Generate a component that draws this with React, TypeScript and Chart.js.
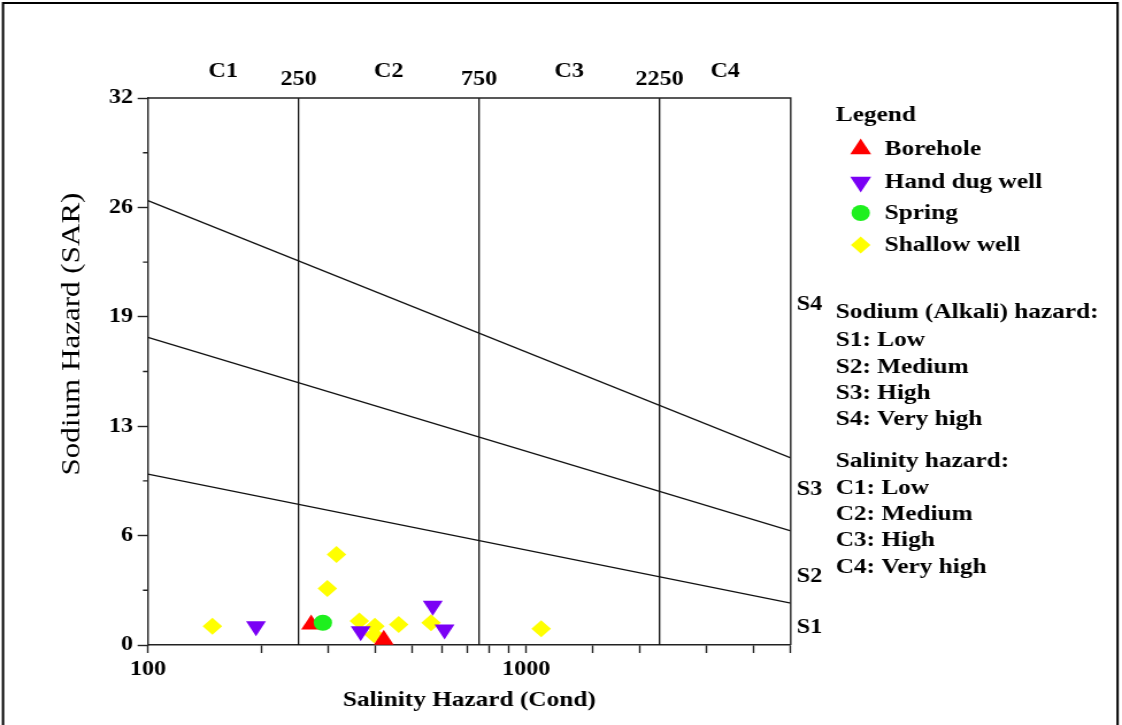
import React, { useEffect, useRef } from 'react';
import { Chart, registerables } from 'chart.js';

Chart.register(...registerables);

// ---------------- data ----------------
const boreholeEC = [270, 420];
const boreholeSAR = [1.2, 0.3];
const handDugEC = [193, 365, 566, 608];
const handDugSAR = [1.1, 0.8, 2.3, 0.9];
const springEC = [290];
const springSAR = [1.3];
const shallowEC = [148, 298, 315, 362, 398, 396, 460, 560, 1095];
const shallowSAR = [1.1, 3.3, 5.3, 1.4, 1.1, 0.6, 1.2, 1.3, 0.95];

const ecMin = 100;
const ecMax = 5000;
const sarMin = 0;
const sarMax = 32;
const salinityBounds = [250, 750, 2250];
const salinityClassLabels = ['C1', 'C2', 'C3', 'C4'];
const sodiumBoundsAtMin = [10, 18, 26];
const sodiumBoundsAtMax = [2.45, 6.67, 10.94];
const sodiumClassLabels = ['S1', 'S2', 'S3', 'S4'];
const sodiumClassLabelSAR = [1.0, 4.0, 9.1, 19.9];
const sarTickValues = [0, 6.4, 12.8, 19.2, 25.6, 32];
const sarMinorTickValues = [3.2, 9.6, 16, 22.4, 28.8];
const ecLabeledTicks = [100, 1000];
const xTitle = 'Salinity Hazard (Cond)';
const yTitle = 'Sodium Hazard (SAR)';
const legendTitle = 'Legend';
const sodiumNoteTitle = 'Sodium (Alkali) hazard:';
const sodiumNotes = ['S1: Low', 'S2: Medium', 'S3: High', 'S4: Very high'];
const salinityNoteTitle = 'Salinity hazard:';
const salinityNotes = ['C1: Low', 'C2: Medium', 'C3: High', 'C4: Very high'];

// ---------------- layout ----------------
const W = 1122;
const H = 725;
const SX = 1.15; // the reference picture is stretched horizontally
const CW = Math.round(W / SX);
const FAMILY = '"Liberation Serif", "Times New Roman", serif';
const PLOT_LEFT = 148;
const PLOT_RIGHT = 791;
const PLOT_TOP = 98;
const PLOT_BOTTOM = 645;

const COLORS = {
  borehole: '#ff0000',
  handDug: '#7a00f5',
  spring: '#1ef01e',
  shallow: '#ffff00',
};

function toPoints(xs: number[], ys: number[]) {
  return xs.map((x, i) => ({ x, y: ys[i] }));
}

function drawMarker(ctx: CanvasRenderingContext2D, style: string, rot: number, x: number, y: number, r: number, color: string) {
  ctx.save();
  ctx.fillStyle = color;
  ctx.beginPath();
  if (style === 'triangle') {
    let a = (rot * Math.PI) / 180;
    for (let k = 0; k < 3; k++) {
      const px = x + Math.sin(a) * r;
      const py = y - Math.cos(a) * r;
      if (k === 0) ctx.moveTo(px, py);
      else ctx.lineTo(px, py);
      a += (2 * Math.PI) / 3;
    }
    ctx.closePath();
  } else if (style === 'rectRot') {
    ctx.moveTo(x - r, y);
    ctx.lineTo(x, y - r);
    ctx.lineTo(x + r, y);
    ctx.lineTo(x, y + r);
    ctx.closePath();
  } else {
    ctx.arc(x, y, r, 0, Math.PI * 2);
  }
  ctx.fill();
  ctx.restore();
}

const decorPlugin = {
  id: 'wilcoxDecor',
  afterDraw(chart: any) {
    const { ctx, chartArea: a, scales } = chart;
    const xs = scales.x;
    const ys = scales.y;
    ctx.save();
    // outer picture frame
    ctx.strokeStyle = '#000';
    ctx.lineWidth = 2;
    ctx.beginPath();
    ctx.moveTo(3 / SX, H + 2);
    ctx.lineTo(3 / SX, 3);
    ctx.lineTo((W - 4) / SX, 3);
    ctx.lineTo((W - 4) / SX, H + 2);
    ctx.stroke();

    // top & right sides of the plot box
    ctx.strokeStyle = '#222';
    ctx.lineWidth = 1.4;
    ctx.beginPath();
    ctx.moveTo(a.left, a.top);
    ctx.lineTo(a.right, a.top);
    ctx.lineTo(a.right, a.bottom);
    ctx.stroke();

    // minor SAR ticks
    ctx.beginPath();
    sarMinorTickValues.forEach((v) => {
      const py = ys.getPixelForValue(v);
      ctx.moveTo(a.left - 5 / SX, py);
      ctx.lineTo(a.left, py);
    });
    ctx.stroke();

    ctx.fillStyle = '#000';
    ctx.textBaseline = 'middle';

    // y axis title (rotated, keeps the reference's wide lettering)
    ctx.save();
    ctx.font = `27px ${FAMILY}`;
    ctx.textAlign = 'center';
    ctx.translate(72 / SX, 334);
    ctx.rotate(-Math.PI / 2);
    ctx.scale(SX, 1 / SX);
    ctx.fillText(yTitle, 0, 0);
    ctx.restore();

    ctx.font = `bold 21px ${FAMILY}`;
    // salinity classes on top
    ctx.textAlign = 'center';
    const edges = [ecMin, ...salinityBounds, ecMax];
    salinityClassLabels.forEach((lab, i) => {
      const mid = Math.sqrt(edges[i] * edges[i + 1]);
      ctx.fillText(lab, xs.getPixelForValue(mid), 72);
    });
    salinityBounds.forEach((b) => ctx.fillText(String(b), xs.getPixelForValue(b), 80));

    // sodium classes on the right
    ctx.textAlign = 'left';
    sodiumClassLabels.forEach((lab, i) => {
      ctx.fillText(lab, a.right + 6 / SX, ys.getPixelForValue(sodiumClassLabelSAR[i]));
    });

    // legend
    ctx.font = `bold 22px ${FAMILY}`;
    const lx = 836 / SX;
    ctx.fillText(legendTitle, lx, 115);
    const markerDs = chart.data.datasets.filter((d: any) => d.isSample);
    const rows = [149, 182, 213, 245];
    markerDs.forEach((d: any, i: number) => {
      const r = d.pointStyle === 'circle' ? 8 : d.pointStyle === 'rectRot' ? 8.5 : 10.5;
      drawMarker(ctx, d.pointStyle, d.rotation || 0, 861 / SX, rows[i], r, d.backgroundColor);
      ctx.fillStyle = '#000';
      ctx.fillText(d.label, 885 / SX, rows[i]);
    });

    // notes
    ctx.fillText(sodiumNoteTitle, lx, 312);
    const sRows = [340, 367, 393, 419];
    sodiumNotes.forEach((t, i) => ctx.fillText(t, lx, sRows[i]));
    ctx.fillText(salinityNoteTitle, lx, 461);
    const cRows = [488, 514, 540, 567];
    salinityNotes.forEach((t, i) => ctx.fillText(t, lx, cRows[i]));

    ctx.restore();
  },
};

export default function App() {
  const ref = useRef<HTMLCanvasElement | null>(null);
  useEffect(() => {
    document.body.style.margin = '0';
    const canvas = ref.current;
    if (!canvas) return;

    const boundaryLines: any[] = [];
    sodiumBoundsAtMin.forEach((s0, i) => {
      boundaryLines.push({
        label: `S boundary ${i + 1}`,
        data: [
          { x: ecMin, y: s0 },
          { x: ecMax, y: sodiumBoundsAtMax[i] },
        ],
        showLine: true,
        borderColor: '#111',
        borderWidth: 1.3,
        pointRadius: 0,
        order: 10,
      });
    });
    salinityBounds.forEach((b) => {
      boundaryLines.push({
        label: `C boundary ${b}`,
        data: [
          { x: b, y: sarMin },
          { x: b, y: sarMax },
        ],
        showLine: true,
        borderColor: '#111',
        borderWidth: 1.3,
        pointRadius: 0,
        order: 10,
      });
    });

    const samples = [
      { label: 'Borehole', data: toPoints(boreholeEC, boreholeSAR), pointStyle: 'triangle', rotation: 0, radius: 10, color: COLORS.borehole, order: 1 },
      { label: 'Hand dug well', data: toPoints(handDugEC, handDugSAR), pointStyle: 'triangle', rotation: 180, radius: 10, color: COLORS.handDug, order: 2 },
      { label: 'Spring', data: toPoints(springEC, springSAR), pointStyle: 'circle', rotation: 0, radius: 8, color: COLORS.spring, order: 0 },
      { label: 'Shallow well', data: toPoints(shallowEC, shallowSAR), pointStyle: 'rectRot', rotation: 0, radius: 8.5, color: COLORS.shallow, order: 3 },
    ].map((s) => ({
      label: s.label,
      data: s.data,
      isSample: true,
      pointStyle: s.pointStyle,
      rotation: s.rotation,
      pointRadius: s.radius,
      backgroundColor: s.color,
      borderColor: s.color,
      borderWidth: 0,
      showLine: false,
      order: s.order,
    }));

    const chart = new Chart(canvas, {
      type: 'scatter',
      data: { datasets: [...samples, ...boundaryLines] as any },
      options: {
        animation: false,
        responsive: false,
        devicePixelRatio: 1,
        layout: {
          padding: { left: 0, top: PLOT_TOP, right: CW - PLOT_RIGHT / SX, bottom: 0 },
        },
        plugins: {
          legend: { display: false },
          tooltip: { enabled: false },
        },
        scales: {
          x: {
            type: 'logarithmic',
            min: ecMin,
            max: ecMax,
            afterFit: (s: any) => {
              s.height = H - PLOT_BOTTOM;
            },
            border: { color: '#222', width: 1.4 },
            grid: { drawOnChartArea: false, tickLength: 8, tickColor: '#222', tickWidth: 1.4 },
            ticks: {
              autoSkip: false,
              maxRotation: 0,
              padding: 4,
              color: '#000',
              font: { family: FAMILY, size: 21, weight: 'bold' },
              callback: (v: any) => (ecLabeledTicks.includes(Math.round(Number(v))) ? String(Math.round(Number(v))) : ''),
            },
            title: {
              display: true,
              text: xTitle,
              color: '#000',
              font: { family: FAMILY, size: 22, weight: 'bold' },
              padding: { top: 0, bottom: 11 },
            },
          },
          y: {
            type: 'linear',
            min: sarMin,
            max: sarMax,
            afterFit: (s: any) => {
              s.width = PLOT_LEFT / SX;
            },
            afterBuildTicks: (s: any) => {
              s.ticks = sarTickValues.map((v) => ({ value: v }));
            },
            border: { color: '#222', width: 1.4 },
            grid: { drawOnChartArea: false, tickLength: 9, tickColor: '#222', tickWidth: 1.4 },
            ticks: {
              padding: 4,
              color: '#000',
              font: { family: FAMILY, size: 21, weight: 'bold' },
              callback: (v: any) => String(Math.round(Number(v))),
            },
          },
        },
      },
      plugins: [decorPlugin],
    });
    return () => chart.destroy();
  }, []);

  return (
    <div style={{ width: W, height: H, background: '#fff' }}>
      <canvas ref={ref} width={CW} height={H} style={{ display: 'block', width: `${W}px`, height: `${H}px` }} />
    </div>
  );
}
